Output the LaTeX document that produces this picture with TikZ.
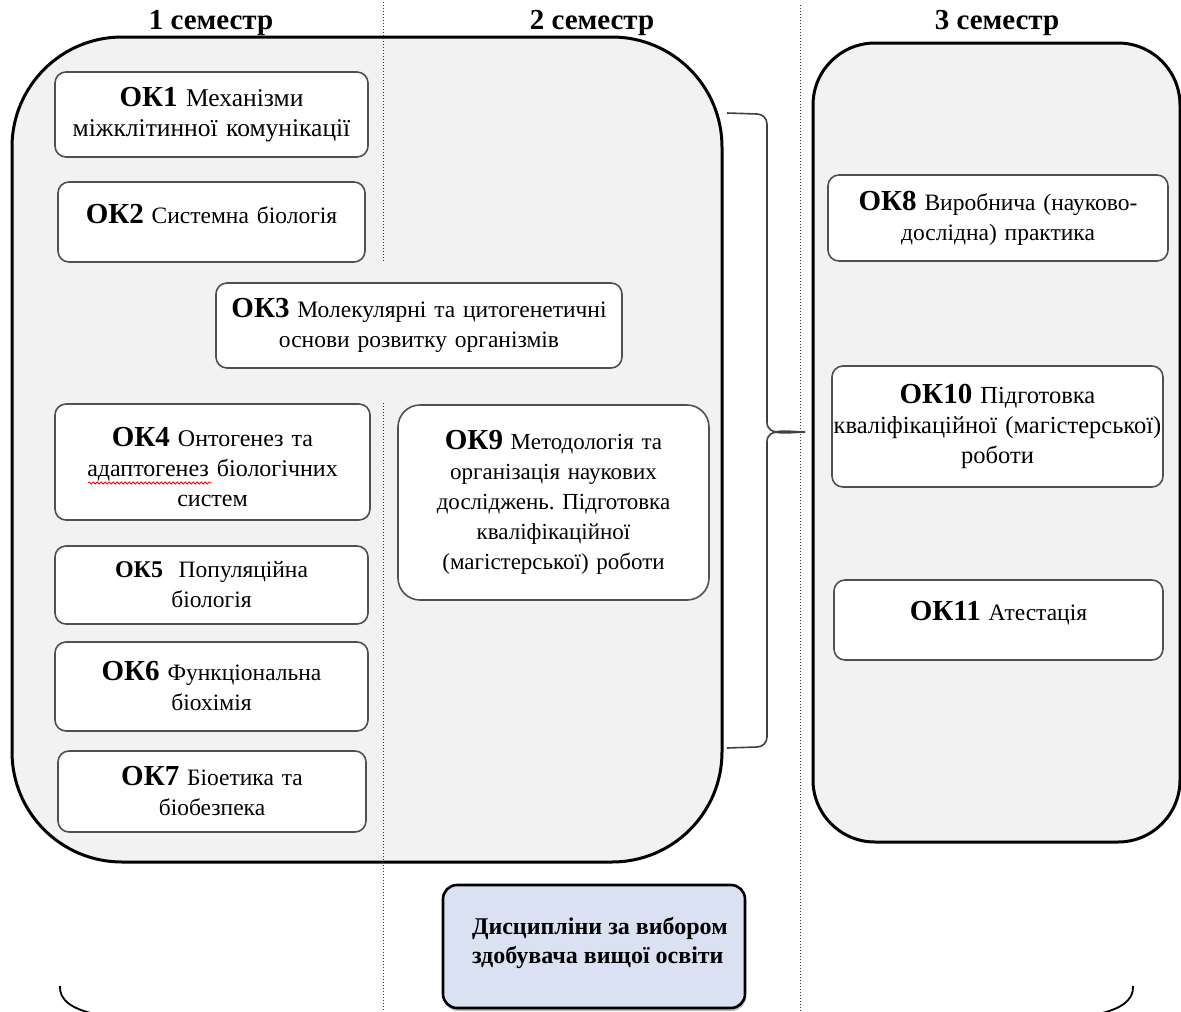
\documentclass[tikz,border=0pt]{standalone}
\usepackage{fontspec}
\setmainfont{Liberation Serif}
\usetikzlibrary{decorations.pathmorphing,shadows}
\newcommand\okb[1]{{\fontsize{29}{30}\selectfont\bfseries ОК#1}}
\newcommand\shiftv[2]{\raisebox{#1}[\height][\depth]{#2}}
\definecolor{contfill}{RGB}{242,242,242}
\definecolor{subedge}{RGB}{80,80,80}
\definecolor{choicefill}{RGB}{217,225,242}
\tikzset{
  container/.style={draw=black, line width=3pt, fill=contfill},
  subbox/.style={draw=subedge, line width=1.6pt, fill=white, rounded corners=11pt,
    align=center, inner sep=0pt, font=\fontsize{23.5}{30}\selectfont},
  header/.style={font=\fontsize{29}{30}\selectfont\bfseries, inner sep=0pt},
  semline/.style={draw=black!80, dotted, line width=1pt},
  bracket/.style={draw=black!75, line width=1.6pt},
  choice/.style={draw=black, line width=2.6pt, fill=choicefill, rounded corners=14pt,
    drop shadow={shadow xshift=1pt, shadow yshift=-3pt, fill=black!50},
    font=\fontsize{24}{29}\selectfont\bfseries, align=left, inner sep=0pt}
}
\frenchspacing
\begin{document}
\begin{tikzpicture}[x=1pt,y=-1pt]
\useasboundingbox (0,0) rectangle (1181,1012);
% containers
\draw[container, rounded corners=110pt] (12,37) rectangle (722,862);
\draw[container, rounded corners=62pt] (813,43) rectangle (1180,842);
% semester dividers
\draw[semline] (383,2) -- (383,262);
\draw[semline] (383,403) -- (383,1012);
\draw[semline] (800,5) -- (800,1012);
% headers
\node[header] (h1) at (211,23) {1 семестр};
\node[header] (h2) at (592,23) {2 семестр};
\node[header] (h3) at (997,23) {3 семестр};
% semester 1-2 boxes
\node[subbox, minimum width=313pt, minimum height=85pt, text width=313pt,
  font=\fontsize{25.5}{30}\selectfont] (ok1) at (211.5,114.5)
  {\okb1 Механізми\\міжклітинної комунікації};
\node[subbox, minimum width=307pt, minimum height=80pt, text width=307pt] (ok2) at (211.5,222)
  {\shiftv{8pt}{\okb2 Системна біологія}};
\node[subbox, minimum width=406pt, minimum height=85pt, text width=406pt] (ok3) at (419,325.5)
  {\okb3 Молекулярні та цитогенетичні\\основи розвитку організмів};
\node[subbox, minimum width=315pt, minimum height=116pt, text width=315pt,
  font=\fontsize{24}{30}\selectfont] (ok4) at (212.5,462)
  {\shiftv{-5pt}{\parbox{315pt}{\centering\okb4 Онтогенез та\\адаптогенез біологічних\\систем}}};
\node[subbox, minimum width=313pt, minimum height=78pt, text width=313pt] (ok5) at (211.5,585)
  {{\fontsize{24}{30}\selectfont\bfseries ОК5}\ \ Популяційна\\біологія};
\node[subbox, minimum width=313pt, minimum height=89pt, text width=313pt] (ok6) at (211.5,686.5)
  {\okb6 Функціональна\\біохімія};
\node[subbox, minimum width=308pt, minimum height=81pt, text width=308pt] (ok7) at (212,791.5)
  {\okb7 Біоетика та\\біобезпека};
\node[subbox, minimum width=311pt, minimum height=195pt, text width=311pt, rounded corners=22pt,
  font=\fontsize{23}{30}\selectfont] (ok9) at (553.5,502.5)
  {\okb9 Методологія та\\організація наукових\\досліджень. Підготовка\\кваліфікаційної\\(магістерської) роботи};
% red spell-check underline
\draw[red, line width=0.8pt, decorate, decoration={snake, amplitude=1.1pt, segment length=4pt}]
  (88,483) -- (212,483);
% semester 3 boxes
\node[subbox, minimum width=340pt, minimum height=86pt, text width=340pt] (ok8) at (998,218)
  {\okb8 Виробнича (науково-\\дослідна) практика};
\node[subbox, minimum width=331pt, minimum height=121pt, text width=331pt,
  font=\fontsize{24.5}{30}\selectfont] (ok10) at (997.5,426.5)
  {\okb{10} Підготовка\\кваліфікаційної (магістерської)\\роботи};
\node[subbox, minimum width=329pt, minimum height=80pt, text width=329pt] (ok11) at (998.5,620)
  {\shiftv{7pt}{\okb{11} Атестація}};
% elective box
\node[choice, minimum width=302pt, minimum height=123pt] (elective) at (594,946.5)
  {\hspace*{16pt}\shiftv{4pt}{\parbox{260pt}{Дисципліни за вибором\\здобувача вищої освіти}}};
% bracket joining semesters 1-2 to semester 3
\coordinate (bt) at (727,113);
\coordinate (bb) at (727,748);
\coordinate (btip) at (805,432);
\draw[bracket] (bt) -- (757,114) to[out=0,in=90] (767,124) -- (767,422)
  to[out=-90,in=180] (btip);
\draw[bracket] (bb) -- (757,747) to[out=0,in=-90] (767,737) -- (767,442)
  to[out=90,in=180] (btip);
% bottom bracket ends
\coordinate (lb) at (60,986);
\coordinate (rb) at (1133,986);
\draw[black, line width=1.8pt] (lb) .. controls (59,1000) and (72,1009) .. (95,1014);
\draw[black, line width=1.8pt] (rb) .. controls (1134,1000) and (1121,1009) .. (1098,1014);
\end{tikzpicture}
\end{document}
